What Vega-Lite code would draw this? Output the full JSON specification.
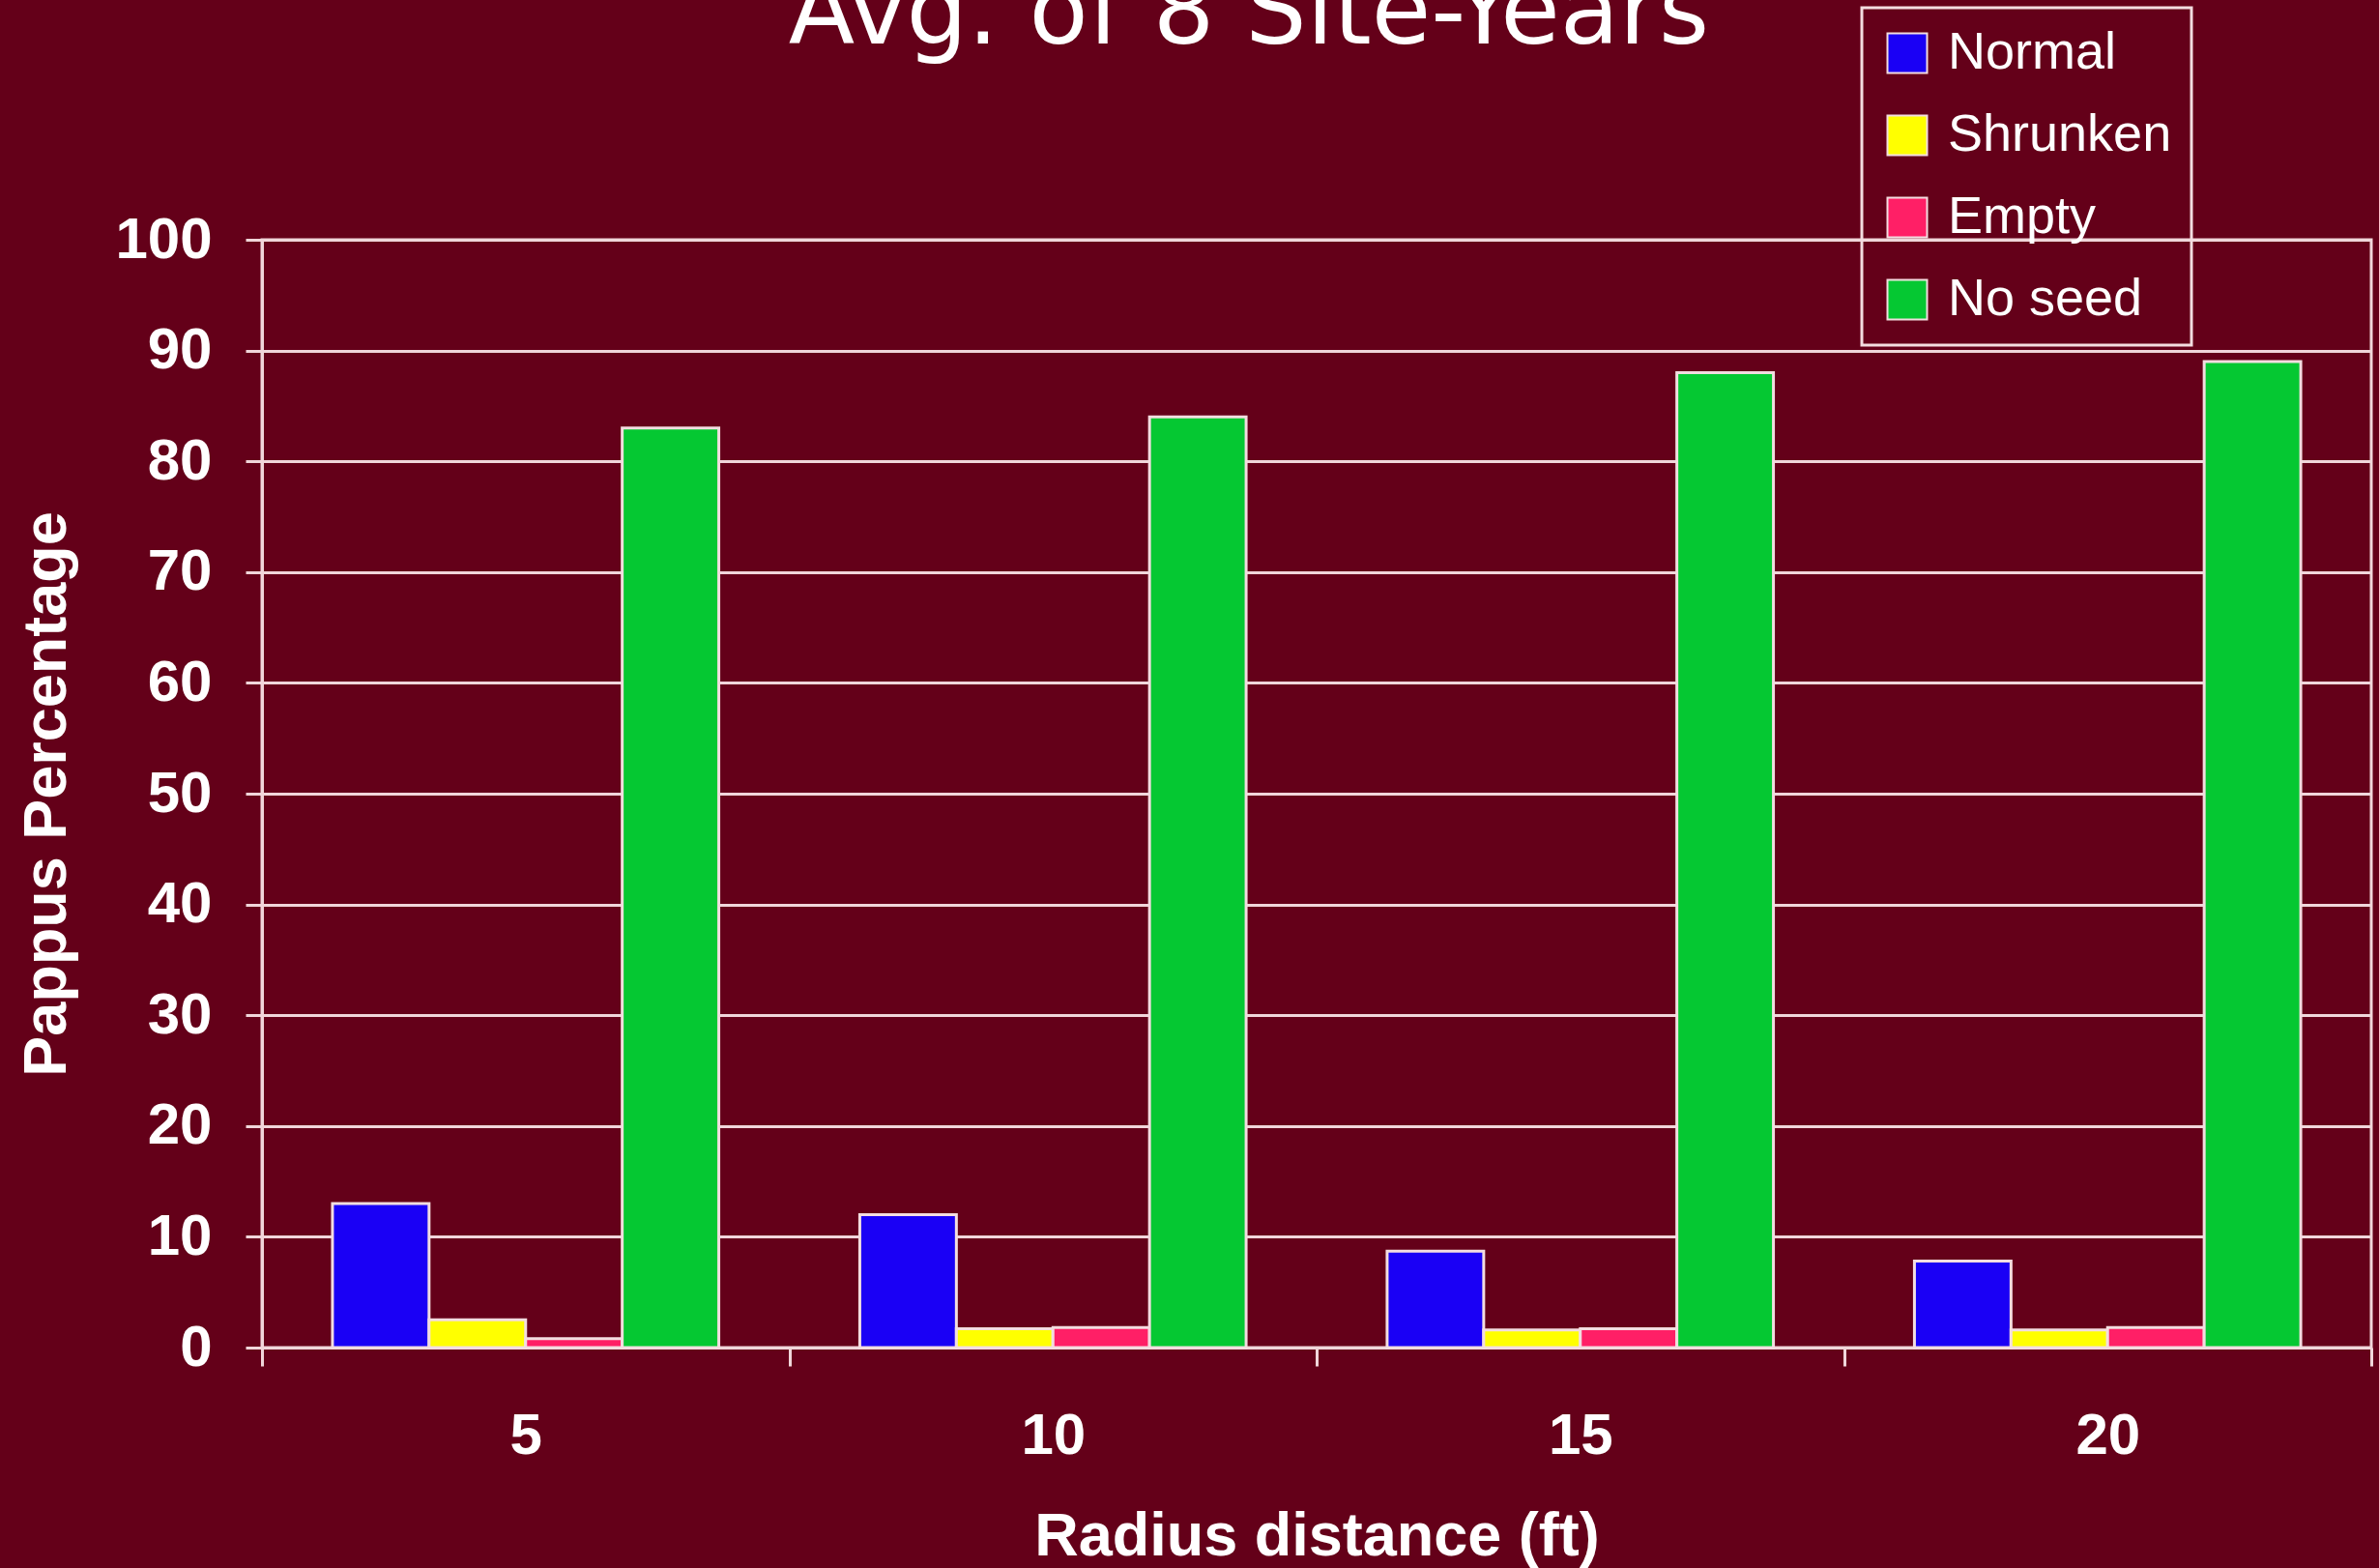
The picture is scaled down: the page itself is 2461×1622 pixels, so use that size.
{
  "$schema": "https://vega.github.io/schema/vega-lite/v6.json",
  "width": 2182,
  "height": 1146,
  "autosize": {"type": "none"},
  "padding": {"left": 271, "top": 248, "right": 8, "bottom": 228},
  "background": "#640019",
  "title": {
    "text": "Avg. of 8 Site-Years",
    "font": "DejaVu Sans",
    "fontSize": 100,
    "fontWeight": "normal",
    "color": "white",
    "anchor": "middle",
    "dx": -70,
    "baseline": "alphabetic",
    "offset": -138
  },
  "data": {
    "values": [
      {"radius": "5", "type": "Normal", "pct": 13},
      {"radius": "5", "type": "Shrunken", "pct": 2.5},
      {"radius": "5", "type": "Empty", "pct": 0.8},
      {"radius": "5", "type": "No seed", "pct": 83},
      {"radius": "10", "type": "Normal", "pct": 12},
      {"radius": "10", "type": "Shrunken", "pct": 1.7},
      {"radius": "10", "type": "Empty", "pct": 1.8},
      {"radius": "10", "type": "No seed", "pct": 84},
      {"radius": "15", "type": "Normal", "pct": 8.7},
      {"radius": "15", "type": "Shrunken", "pct": 1.6},
      {"radius": "15", "type": "Empty", "pct": 1.7},
      {"radius": "15", "type": "No seed", "pct": 88},
      {"radius": "20", "type": "Normal", "pct": 7.8},
      {"radius": "20", "type": "Shrunken", "pct": 1.6},
      {"radius": "20", "type": "Empty", "pct": 1.8},
      {"radius": "20", "type": "No seed", "pct": 89}
    ]
  },
  "mark": {"type": "bar", "stroke": "#f3dde0", "strokeWidth": 3},
  "encoding": {
    "x": {
      "field": "radius",
      "type": "nominal",
      "sort": ["5", "10", "15", "20"],
      "scale": {"paddingInner": 0, "paddingOuter": 0},
      "title": "Radius distance (ft)",
      "axis": {
        "labelAngle": 0,
        "tickBand": "extent",
        "domainColor": "#f0d6da",
        "domainWidth": 3,
        "tickColor": "#f0d6da",
        "tickWidth": 3,
        "tickSize": 19,
        "labelFont": "Liberation Sans",
        "labelFontSize": 60,
        "labelFontWeight": "bold",
        "labelColor": "white",
        "labelPadding": 43,
        "titleFont": "Liberation Sans",
        "titleFontSize": 63,
        "titleFontWeight": "bold",
        "titleColor": "white",
        "titleBaseline": "alphabetic",
        "titleY": 214
      }
    },
    "xOffset": {
      "field": "type",
      "sort": ["Normal", "Shrunken", "Empty", "No seed"],
      "scale": {"paddingInner": 0, "paddingOuter": 0.73}
    },
    "y": {
      "field": "pct",
      "type": "quantitative",
      "scale": {"domain": [0, 100], "nice": false},
      "title": "Pappus Percentage",
      "axis": {
        "values": [0, 10, 20, 30, 40, 50, 60, 70, 80, 90, 100],
        "grid": true,
        "gridColor": "#f0d6da",
        "gridWidth": 3,
        "domainColor": "#f0d6da",
        "domainWidth": 3,
        "tickColor": "#f0d6da",
        "tickWidth": 3,
        "tickSize": 17,
        "labelFont": "Liberation Sans",
        "labelFontSize": 60,
        "labelFontWeight": "bold",
        "labelColor": "white",
        "labelPadding": 35,
        "labelFlush": false,
        "labelOverlap": false,
        "titleFont": "Liberation Sans",
        "titleFontSize": 63,
        "titleFontWeight": "bold",
        "titleColor": "white",
        "titleBaseline": "alphabetic",
        "titleX": -204
      }
    },
    "color": {
      "field": "type",
      "type": "nominal",
      "scale": {
        "domain": ["Normal", "Shrunken", "Empty", "No seed"],
        "range": ["#1a00f5", "#ffff00", "#ff1f66", "#05c832"]
      },
      "legend": {
        "orient": "none",
        "legendX": 1655,
        "legendY": -240,
        "title": null,
        "symbolType": "square",
        "symbolSize": 1681,
        "symbolStrokeColor": "#f3dde0",
        "symbolStrokeWidth": 2,
        "symbolOpacity": 1,
        "labelFont": "Liberation Sans",
        "labelFontSize": 54,
        "labelColor": "white",
        "labelLimit": 500,
        "labelOffset": 15,
        "rowPadding": 31,
        "padding": 20,
        "strokeColor": "#f3dde0"
      }
    }
  },
  "config": {
    "view": {"stroke": "#f0d6da", "strokeWidth": 3},
    "legend": {"strokeColor": "#f3dde0", "strokeWidth": 3}
  }
}
